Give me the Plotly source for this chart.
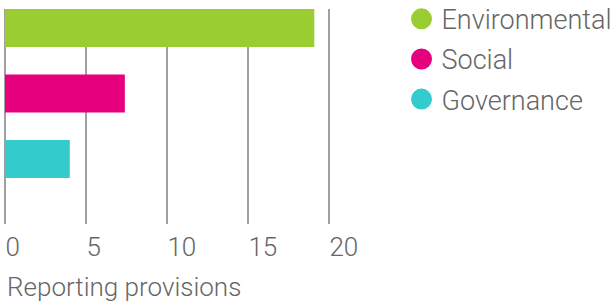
import plotly.graph_objects as go

categories = ["Environmental", "Social", "Governance"]
values = [19.1, 7.4, 4.0]
colors = ["#9acd32", "#e6007e", "#33cccc"]
tick_vals = [0, 5, 10, 15, 20]
x_title = "Reporting provisions"

FONT = "Roboto"
TXT = "#666666"

fig = go.Figure()
fig.add_trace(go.Bar(
    y=categories, x=values, orientation="h",
    marker=dict(color=colors, line=dict(width=0)),
    width=0.58, showlegend=False, hoverinfo="x+y",
))
for c, col in zip(categories, colors):
    fig.add_trace(go.Scatter(
        x=[None], y=[None], mode="markers", name=c,
        marker=dict(symbol="circle", size=16, color=col, line=dict(color=col, width=5)),
        legendgroup=c, showlegend=True,
    ))

fig.update_layout(
    width=613, height=301,
    margin=dict(l=5, r=276, t=9, b=77, autoexpand=False),
    paper_bgcolor="white", plot_bgcolor="white",
    font=dict(family=FONT, color=TXT, size=26, weight=300),
    showlegend=True,
    legend=dict(
        xref="container", yref="paper",
        x=0.655, y=1.066, xanchor="left", yanchor="top",
        font=dict(family=FONT, size=27, color=TXT, weight=300),
        itemsizing="trace", tracegroupgap=2,
        bgcolor="rgba(0,0,0,0)",
    ),
    xaxis=dict(
        range=[0, 20.5], tickvals=tick_vals,
        showgrid=True, gridcolor="#a0a0a0", gridwidth=1.7,
        zeroline=True, zerolinecolor="#a0a0a0", zerolinewidth=1.7,
        showline=False, automargin=False,
        ticks="outside", ticklen=5, tickcolor="rgba(0,0,0,0)",
        ticklabelposition="outside right",
        tickfont=dict(family=FONT, size=26, color=TXT, weight=300),
    ),
    yaxis=dict(
        categoryorder="array", categoryarray=categories,
        range=[2.99, -0.29], automargin=False,
        showticklabels=False, showgrid=False, zeroline=False, showline=False,
    ),
    annotations=[dict(
        text=x_title, xref="paper", yref="paper",
        x=0, y=-0.293, xanchor="left", yanchor="middle", showarrow=False,
        font=dict(family=FONT, size=26, color=TXT, weight=300),
    )],
)

fig.write_html("out.html", config={"displayModeBar": False},
               post_script="document.body.style.margin='0';")
